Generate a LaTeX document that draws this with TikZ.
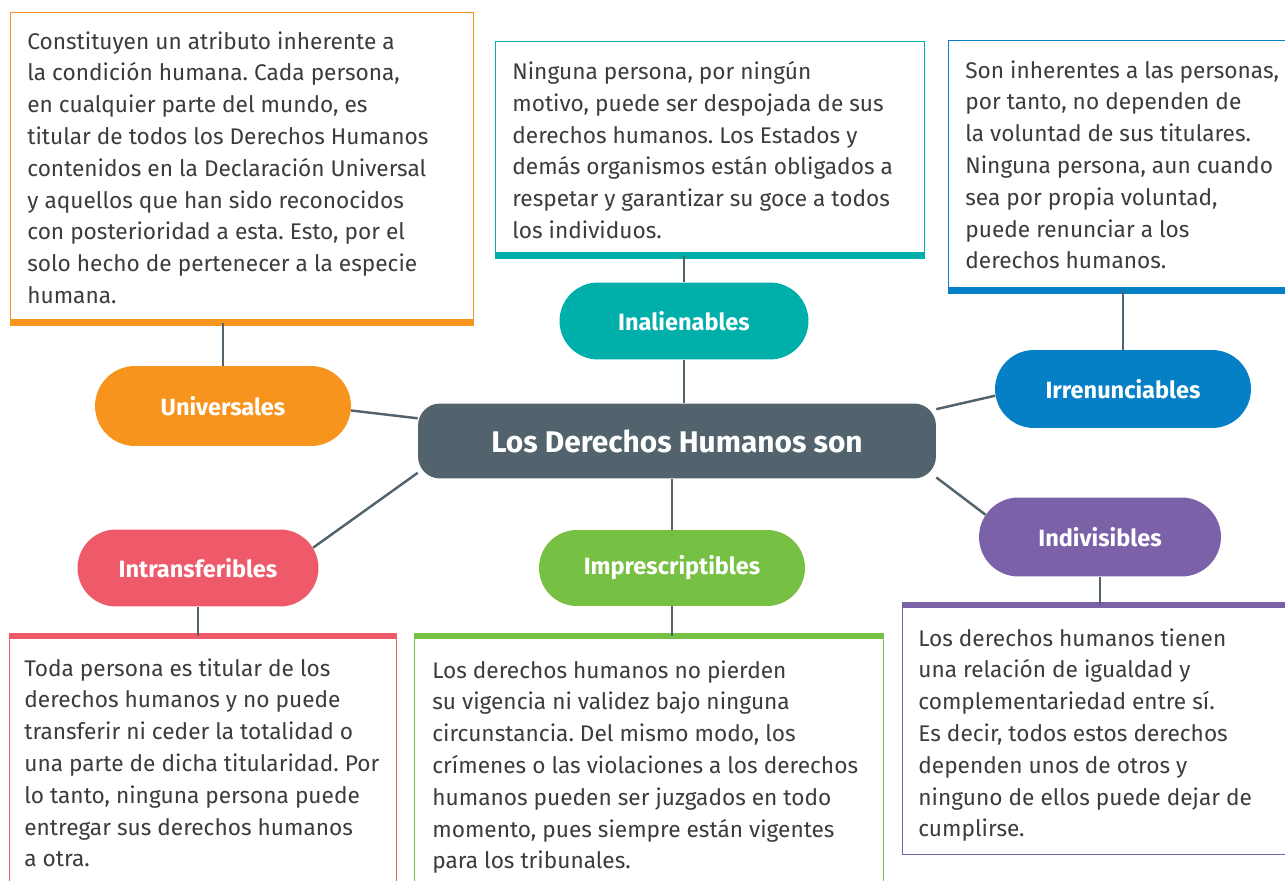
\documentclass[tikz,border=0pt]{standalone}
\usepackage{fontspec}
\setmainfont{Fira Sans}
\usepackage{xcolor}
\definecolor{slate}{HTML}{53636E}
\definecolor{ink}{HTML}{3C3C3C}
\definecolor{orangeuni}{HTML}{F7941D}
\definecolor{tealina}{HTML}{00AFAA}
\definecolor{blueirr}{HTML}{0580C6}
\definecolor{redtra}{HTML}{EF5A6A}
\definecolor{greenpre}{HTML}{76C043}
\definecolor{purpleind}{HTML}{7B61A8}
\usepackage{tikz}
\usetikzlibrary{positioning,calc,shapes.misc}
\frenchspacing
\tikzset{
  pill/.style   ={rounded rectangle,text=white,
                  font=\fontsize{13.4pt}{16pt}\selectfont\bfseries,
                  minimum height=1.55cm,inner sep=2pt},
  hub/.style    ={fill=slate,rounded corners=0.44cm,text=white,
                  font=\fontsize{17pt}{20pt}\selectfont\bfseries,
                  minimum width=10.36cm,minimum height=1.5cm},
  frame/.style  ={draw,fill=white,line width=0.8pt,anchor=north west,
                  inner sep=0pt},
  desc/.style   ={anchor=north west,align=left,inner sep=0pt,text=ink,
                  font=\fontsize{12.9pt}{18.1pt}\selectfont},
  bar/.style    ={line width=0.14cm,line cap=butt},
  link/.style   ={draw=slate,line width=1.4pt},
}

\begin{document}
\begin{tikzpicture}[x=0.02cm,y=-0.02cm]
\useasboundingbox (0,0) rectangle (1285,881);
\clip (0,0) rectangle (1285,881);
% text frames
\node[frame,draw=orangeuni,minimum width=9.26cm,minimum height=6.19cm] (unibox) at (10,12) {};
\node[frame,draw=tealina,minimum width=8.58cm,minimum height=4.27cm] (inabox) at (495,41) {};
\node[frame,draw=blueirr,minimum width=6.84cm,minimum height=4.98cm] (irrbox) at (948,40) {};
\node[frame,draw=redtra,minimum width=7.74cm,minimum height=5.4cm] (trabox) at (9,636) {};
\node[frame,draw=greenpre,minimum width=9.38cm,minimum height=5.4cm] (prebox) at (414,636) {};
\node[frame,draw=purpleind,minimum width=7.76cm,minimum height=4.98cm] (indbox) at (902,605) {};
% colour bars
\draw[bar,orangeuni] (unibox.south west) -- (unibox.south east);
\draw[bar,tealina] (inabox.south west) -- (inabox.south east);
\draw[bar,blueirr] (irrbox.south west) -- (irrbox.south east);
\draw[bar,redtra] (trabox.north west) -- (trabox.north east);
\draw[bar,greenpre] (prebox.north west) -- (prebox.north east);
\draw[bar,purpleind] (indbox.north west) -- (indbox.north east);
% texts
\node[desc] (unitext) at ([shift={(17,19)}]unibox.north west)
  {Constituyen un atributo inherente a\\ la condición humana. Cada persona,\\
   en cualquier parte del mundo, es\\ titular de todos los Derechos Humanos\\
   contenidos en la Declaración Universal\\ y aquellos que han sido reconocidos\\
   con posterioridad a esta. Esto, por el\\ solo hecho de pertenecer a la especie\\ humana.};
\node[desc] (inatext) at ([shift={(17,20)}]inabox.north west)
  {Ninguna persona, por ningún\\ motivo, puede ser despojada de sus\\
   derechos humanos. Los Estados y\\ demás organismos están obligados a\\
   respetar y garantizar su goce a todos\\ los individuos.};
\node[desc] (irrtext) at ([shift={(17,20)}]irrbox.north west)
  {Son inherentes a las personas,\\ por tanto, no dependen de\\
   la voluntad de sus titulares.\\ Ninguna persona, aun cuando\\
   sea por propia voluntad,\\ puede renunciar a los\\ derechos humanos.};
\node[desc] (tratext) at ([shift={(15,22)}]trabox.north west)
  {Toda persona es titular de los\\ derechos humanos y no puede\\
   transferir ni ceder la totalidad o\\ una parte de dicha titularidad. Por\\
   lo tanto, ninguna persona puede\\ entregar sus derechos humanos\\ a otra.};
\node[desc] (pretext) at ([shift={(18,24)}]prebox.north west)
  {Los derechos humanos no pierden\\ su vigencia ni validez bajo ninguna\\
   circunstancia. Del mismo modo, los\\ crímenes o las violaciones a los derechos\\
   humanos pueden ser juzgados en todo\\ momento, pues siempre están vigentes\\
   para los tribunales.};
\node[desc] (indtext) at ([shift={(16,23)}]indbox.north west)
  {Los derechos humanos tienen\\ una relación de igualdad y\\
   complementariedad entre sí.\\ Es decir, todos estos derechos\\
   dependen unos de otros y\\ ninguno de ellos puede dejar de\\ cumplirse.};
% pills
\node[hub] (hub) at (677,441) {Los Derechos Humanos son};
\node[pill,fill=orangeuni,minimum width=5.26cm,minimum height=1.6cm] (uni) at (223,406) {Universales};
\node[pill,fill=tealina,minimum width=5.12cm,minimum height=1.54cm] (ina) at (684,321) {Inalienables};
\node[pill,fill=blueirr,minimum width=5.26cm,minimum height=1.56cm] (irr) at (1123,389) {Irrenunciables};
\node[pill,fill=redtra,minimum width=4.96cm,minimum height=1.54cm] (tra) at (198,568) {Intransferibles};
\node[pill,fill=greenpre,minimum width=5.46cm,minimum height=1.52cm] (pre) at (672,568) {Imprescriptibles};
\node[pill,fill=purpleind,minimum width=4.98cm,minimum height=1.58cm] (ind) at (1100,537) {Indivisibles};
% links
\draw[link] (uni.-2) -- (hub.175);
\draw[link] (hub.7) -- (irr.183);
\draw[link] (hub.187) -- (tra.10);
\draw[link] (hub.-8) -- (ind.169);
\draw[link] (ina.south) -- (ina.south |- hub.north);
\draw[link] (hub.south -| pre.north) -- (pre.north);
\draw[link] (uni.north) -- (uni.north |- unibox.south);
\draw[link] (ina.north) -- (ina.north |- inabox.south);
\draw[link] (irr.north) -- (irr.north |- irrbox.south);
\draw[link] (tra.south) -- (tra.south |- trabox.north);
\draw[link] (pre.south) -- (pre.south |- prebox.north);
\draw[link] (ind.south) -- (ind.south |- indbox.north);
\end{tikzpicture}
\end{document}
